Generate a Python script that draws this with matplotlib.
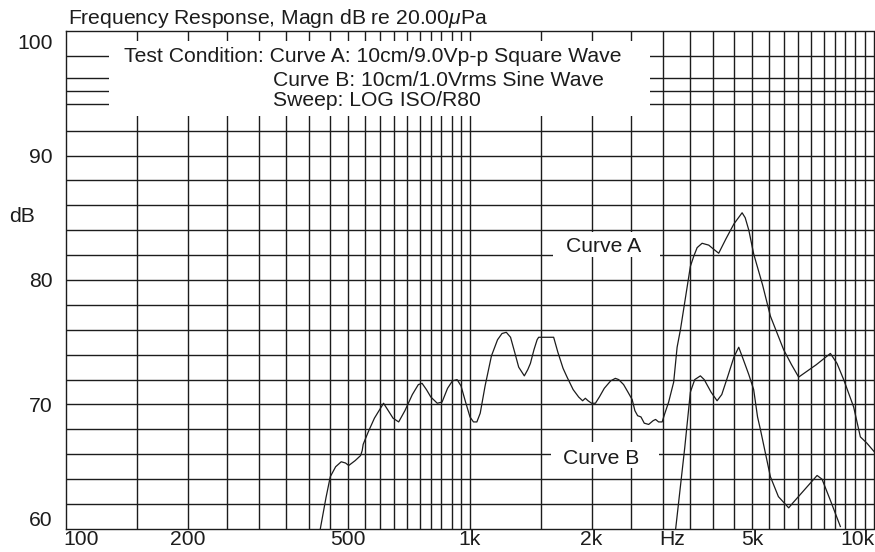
import matplotlib
matplotlib.use("Agg")
import matplotlib.pyplot as plt
from matplotlib.patches import Rectangle
from matplotlib.transforms import ScaledTranslation

plt.rcParams['font.family'] = ['Liberation Sans', 'DejaVu Sans']
plt.rcParams['mathtext.fontset'] = 'custom'
plt.rcParams['mathtext.rm'] = 'Liberation Sans'
plt.rcParams['mathtext.it'] = 'Liberation Sans:italic'
plt.rcParams['font.size'] = 15.2

# data (Hz, dB)
curve_a_freq = [426, 440, 451, 465, 480, 492, 501, 520, 536, 541, 544, 560, 580, 611,
                625, 645, 666, 690, 720, 745, 761, 780, 800, 830, 853, 880, 905, 929,
                950, 975, 1000, 1020, 1040, 1060, 1090, 1130, 1170, 1200, 1230, 1260,
                1290, 1320, 1363, 1390, 1411, 1440, 1466, 1479, 1611, 1650, 1700, 1739,
                1800, 1858, 1900, 1930, 1960, 2000, 2044, 2090, 2150, 2230, 2290, 2334,
                2400, 2460, 2520, 2560, 2600, 2650, 2700, 2769, 2840, 2880, 2930, 2990,
                3030, 3103, 3193, 3256, 3318, 3512, 3579, 3650, 3754, 3900, 4000, 4127,
                4300, 4500, 4716, 4800, 4900, 5037, 5300, 5541, 5976, 6250, 6510, 7200,
                7800, 8100, 8414, 8906, 9253, 9600, 10080, 10200]
curve_a_db = [60.0, 62.5, 64.2, 65.0, 65.4, 65.3, 65.1, 65.5, 65.9, 66.3, 66.8, 67.8, 68.9, 70.1,
              69.6, 68.9, 68.6, 69.5, 70.8, 71.6, 71.7, 71.2, 70.6, 70.1, 70.2, 71.3, 71.9, 72.0,
              71.5, 70.2, 69.0, 68.6, 68.6, 69.3, 71.5, 73.9, 75.2, 75.7, 75.8, 75.4,
              74.2, 73.0, 72.3, 72.8, 73.3, 74.4, 75.2, 75.4, 75.4, 74.2, 72.9, 72.2,
              71.2, 70.6, 70.3, 70.5, 70.3, 70.1, 70.1, 70.6, 71.3, 71.9, 72.1, 72.0,
              71.6, 71.0, 70.4, 69.5, 69.1, 69.0, 68.5, 68.4, 68.7, 68.8, 68.6, 68.6,
              69.2, 70.2, 71.8, 74.6, 76.0, 81.1, 81.9, 82.6, 82.95, 82.8, 82.5, 82.15,
              83.3, 84.5, 85.4, 85.0, 84.0, 82.1, 79.6, 77.1, 74.4, 73.2, 72.2, 73.2,
              74.1, 73.3, 72.0, 69.8, 67.4, 66.9, 66.1, 65.9]

curve_b_freq = [3229, 3400, 3512, 3600, 3718, 3800, 3950, 4089, 4200, 4350, 4500, 4626,
                4750, 4900, 5037, 5150, 5234, 5541, 5800, 6150, 6300, 7231, 7438, 7800, 8256]
curve_b_db = [60.0, 66.5, 71.0, 72.0, 72.3, 72.0, 71.0, 70.3, 70.8, 72.3, 73.8, 74.6,
              73.6, 72.4, 71.2, 69.0, 68.0, 64.2, 62.6, 61.7, 62.1, 64.3, 64.0, 62.3, 60.2]

x_ticks = [100, 200, 500, 1000, 2000, 3170, 5000, 10000]
x_labels = ['100', '200', '500', '1k', '2k', 'Hz', '5k', '10k']
y_ticks = [60, 70, 80, 90, 100]

v_grid = list(range(150, 1001, 50)) + list(range(1500, 10001, 500))
h_grid = [62, 64, 66, 68, 70, 72, 74, 76, 78, 80, 82, 84, 86, 88, 90, 92, 94.1, 95.2, 96.2, 98]

ink = '#1c1c1c'

fig = plt.figure(figsize=(8.75, 5.52), dpi=100)
ax = fig.add_axes([66 / 875, 1 - 529 / 552, 810 / 875, 498 / 552])
ax.set_xscale('log')
ax.set_xlim(100, 10116)
ax.set_ylim(60, 100)

for f in v_grid:
    ax.axvline(f, color=ink, lw=1.0, zorder=1)
for d in h_grid:
    ax.axhline(d, color=ink, lw=1.0, zorder=1)

# white panels that hide the grid behind the texts
ax.add_patch(Rectangle((127.7, 93.2), 2796 - 127.7, 99.2 - 93.2, fc='white', ec='none', zorder=2))
ax.add_patch(Rectangle((1606, 81.87), 2960 - 1606, 83.85 - 81.87, fc='white', ec='none', zorder=2))
ax.add_patch(Rectangle((1588, 64.86), 2931 - 1588, 66.96 - 64.86, fc='white', ec='none', zorder=2))

ax.plot(curve_a_freq, curve_a_db, color=ink, lw=0.9, zorder=3)
ax.plot(curve_b_freq, curve_b_db, color=ink, lw=0.9, zorder=3)

ax.text(2139, 82.22, 'Curve A', ha='center', va='baseline', color=ink, zorder=4)
ax.text(2118, 65.22, 'Curve B', ha='center', va='baseline', color=ink, zorder=4)

ax.set_xticks(x_ticks)
ax.set_xticklabels(x_labels)
ax.xaxis.set_minor_locator(plt.NullLocator())
ax.set_yticks(y_ticks)
ax.tick_params(axis='x', length=0, pad=0.5, colors=ink)
ax.tick_params(axis='y', length=0, pad=9.4, colors=ink)

lx = ax.get_xticklabels()
lx[0].set_transform(lx[0].get_transform() + ScaledTranslation(0.15, 0, fig.dpi_scale_trans))
lx[-1].set_transform(lx[-1].get_transform() + ScaledTranslation(-0.17, 0, fig.dpi_scale_trans))
ly = ax.get_yticklabels()
ly[0].set_transform(ly[0].get_transform() + ScaledTranslation(0, 0.10, fig.dpi_scale_trans))
ly[-1].set_transform(ly[-1].get_transform() + ScaledTranslation(0, -0.107, fig.dpi_scale_trans))

for s in ax.spines.values():
    s.set_color(ink)
    s.set_linewidth(1.0)

fig.text(67.7 / 875, 1 - 23.5 / 552, r'Frequency Response, Magn dB re 20.00$\mu$Pa',
         ha='left', va='baseline', color=ink)
fig.text(21.7 / 875, 1 - 216.7 / 552, 'dB', ha='center', va='center', color=ink)

fig.text(124 / 875, 1 - 62 / 552, 'Test Condition: Curve A: 10cm/9.0Vp-p Square Wave',
         ha='left', va='baseline', color=ink)
fig.text(273 / 875, 1 - 86.5 / 552, 'Curve B: 10cm/1.0Vrms Sine Wave',
         ha='left', va='baseline', color=ink)
fig.text(273 / 875, 1 - 106 / 552, 'Sweep: LOG ISO/R80',
         ha='left', va='baseline', color=ink)

fig.savefig('out.png', dpi=100)
